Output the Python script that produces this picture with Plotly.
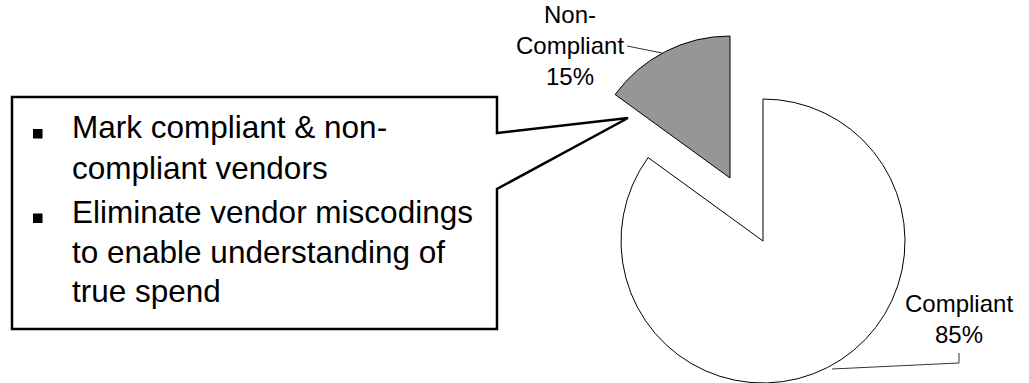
import plotly.graph_objects as go

# ---- data ----
categories = ["Compliant", "Non-Compliant"]
shares = [85, 15]
bullet_1 = ["Mark compliant & non-", "compliant vendors"]
bullet_2 = ["Eliminate vendor miscodings", "to enable understanding of", "true spend"]

W, H = 1029, 383
FONT = "Liberation Sans, Arial, Helvetica, sans-serif"
CLEAR = "rgba(0,0,0,0)"


def px(x):
    return x / W


def py(y):
    return 1 - y / H


def dom(cx, cy, r):
    return dict(
        x=[max(0.0, px(cx - r)), min(1.0, px(cx + r))],
        y=[max(0.0, py(cy + r)), min(1.0, py(cy - r))],
    )


total = sum(shares)
pct = [f"{v / total * 100:.0f}%" for v in shares]

fig = go.Figure()

# main pie (compliant slice)
fig.add_trace(go.Pie(
    labels=categories, values=shares, sort=False, direction="clockwise", rotation=0,
    textinfo="none", hoverinfo="label+percent", showlegend=False,
    marker=dict(colors=["white", CLEAR], line=dict(color=["black", CLEAR], width=1)),
    domain=dom(763, 241, 142),
))
# exploded slice (non-compliant)
fig.add_trace(go.Pie(
    labels=categories, values=shares, sort=False, direction="clockwise", rotation=0,
    textinfo="none", hoverinfo="label+percent", showlegend=False,
    marker=dict(colors=[CLEAR, "#969696"], line=dict(color=[CLEAR, "black"], width=1)),
    domain=dom(730, 178, 142),
))

shapes = []
# callout box with pointer
pts = [(12, 97), (497, 97), (497, 133), (628, 118), (497, 189), (497, 329), (12, 329)]
path = "M " + " L ".join(f"{px(x):.5f},{py(y):.5f}" for x, y in pts) + " Z"
shapes.append(dict(type="path", xref="paper", yref="paper", path=path,
                   line=dict(color="black", width=2.5), fillcolor="white", layer="above"))
# bullets
for (y0, y1) in [(129, 138.5), (213.5, 223)]:
    shapes.append(dict(type="rect", xref="paper", yref="paper",
                       x0=px(33), x1=px(42.5), y0=py(y1), y1=py(y0),
                       fillcolor="black", line=dict(width=0), layer="above"))
# leader lines
for seg in [[(627, 46), (662, 53)], [(832, 369), (959, 363), (959, 353)]]:
    p = "M " + " L ".join(f"{px(x):.5f},{py(y):.5f}" for x, y in seg)
    shapes.append(dict(type="path", xref="paper", yref="paper", path=p,
                       line=dict(color="#333333", width=1), layer="above"))

annotations = []
FS = 31.5
baselines = [138, 179, 223, 263, 302]
lines = bullet_1 + bullet_2
for t, b in zip(lines, baselines):
    annotations.append(dict(text=t, x=px(70), y=py(b - 0.35 * FS), xref="paper", yref="paper",
                            xanchor="left", yanchor="middle", showarrow=False,
                            font=dict(family=FONT, size=FS, color="black")))

LS = 24
annotations.append(dict(
    text=categories[1].replace("-", "-<br>") + "<br>" + pct[1],
    x=px(570), y=py(45), xref="paper", yref="paper", xanchor="center", yanchor="middle",
    showarrow=False, font=dict(family=FONT, size=LS, color="black")))
annotations.append(dict(
    text=categories[0] + "<br>" + pct[0],
    x=px(959), y=py(319), xref="paper", yref="paper", xanchor="center", yanchor="middle",
    showarrow=False, font=dict(family=FONT, size=LS, color="black")))

fig.update_layout(
    width=W, height=H, margin=dict(l=0, r=0, t=0, b=0, pad=0),
    paper_bgcolor="white", plot_bgcolor="white",
    shapes=shapes, annotations=annotations,
    font=dict(family=FONT),
)

fig.write_html("out.html")
